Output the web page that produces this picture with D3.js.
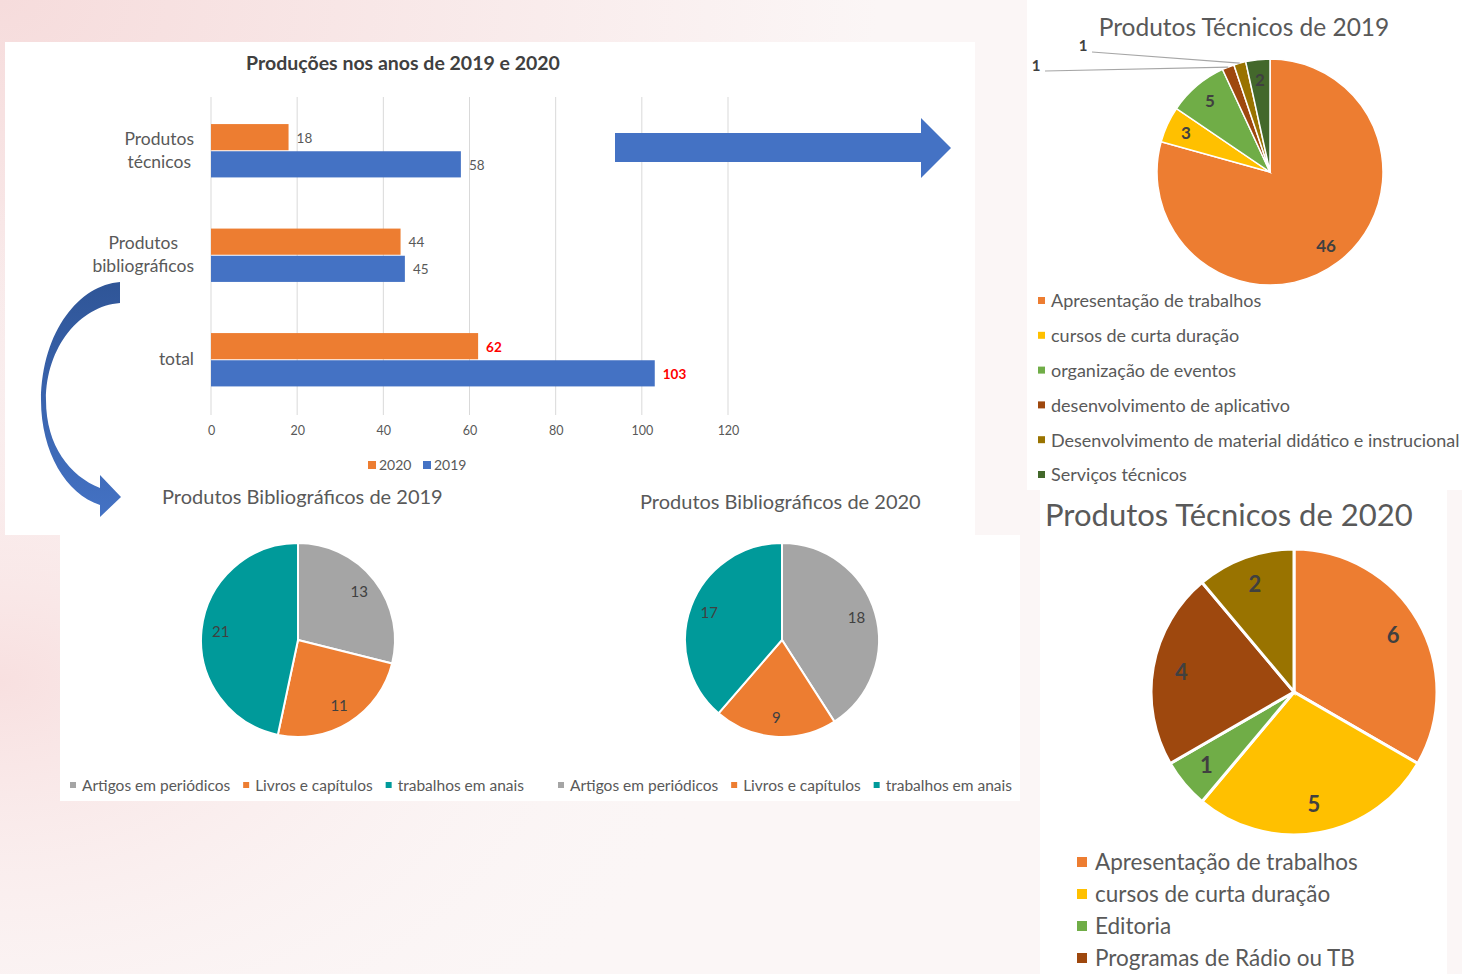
<!DOCTYPE html>
<html>
<head>
<meta charset="utf-8">
<script src="https://d3js.org/d3.v7.min.js"></script>
<style>
  body { margin: 0; background: #fbf6f6; }
  svg { display: block; font-family: Lato, "Open Sans", sans-serif; }
  .grid line { stroke: #d9d9d9; stroke-width: 1px; }
  .tick text { fill: #595959; }
  .lbl { fill: #404040; }
  .leg { fill: #595959; }
</style>
</head>
<body>
<script>
// ---- data ----
var barCategories = ["Produtos técnicos", "Produtos bibliográficos", "total"];
var barYears = ["2020", "2019"];
var values2020 = [18, 44, 62];
var values2019 = [58, 45, 103];
var barTicks = [0, 20, 40, 60, 80, 100, 120];

var bibCategories = ["Artigos em periódicos", "Livros e capítulos", "trabalhos em anais"];
var bib2019 = [13, 11, 21];
var bib2020 = [18, 9, 17];

var tec2019Categories = ["Apresentação de trabalhos", "cursos de curta duração", "organização de eventos",
  "desenvolvimento de aplicativo", "Desenvolvimento de material didático e instrucional", "Serviços técnicos"];
var tec2019 = [46, 3, 5, 1, 1, 2];

var tec2020Categories = ["Apresentação de trabalhos", "cursos de curta duração", "Editoria",
  "Programas de Rádio ou TB", "(fora da imagem)"];
var tec2020 = [6, 5, 1, 4, 2];

var yearColors = {"2020": "#ED7D31", "2019": "#4472C4"};
var bibColors = ["#A5A5A5", "#ED7D31", "#009A9A"];
var tecColors = ["#ED7D31", "#FFC000", "#70AD47", "#9E480E", "#997300", "#43682B"];

var W = 1462, H = 974;
var svg = d3.select("body").append("svg").attr("width", W).attr("height", H);

// ---- background ----
var defs = svg.append("defs");
var rg = defs.append("radialGradient").attr("id", "pinkTL").attr("cx", "0").attr("cy", "0").attr("r", "0.6");
rg.append("stop").attr("offset", "0").attr("stop-color", "#f6dcdc");
rg.append("stop").attr("offset", "1").attr("stop-color", "#fbf6f6");
var rg2 = defs.append("radialGradient").attr("id", "pinkBL").attr("cx", "0").attr("cy", "0.7").attr("r", "0.5");
rg2.append("stop").attr("offset", "0").attr("stop-color", "#f8e0e0");
rg2.append("stop").attr("offset", "1").attr("stop-color", "#fbf6f6").attr("stop-opacity", 0);
var ag = defs.append("linearGradient").attr("id", "arrowGrad").attr("x1", 0).attr("y1", 0).attr("x2", 0).attr("y2", 1);
ag.append("stop").attr("offset", "0").attr("stop-color", "#2f5597");
ag.append("stop").attr("offset", "1").attr("stop-color", "#4472C4");

svg.append("rect").attr("width", W).attr("height", H).attr("fill", "url(#pinkTL)");
svg.append("rect").attr("width", W).attr("height", H).attr("fill", "url(#pinkBL)");

// white panels
svg.append("rect").attr("x", 5).attr("y", 42).attr("width", 970).attr("height", 493).attr("fill", "#fff");
svg.append("rect").attr("x", 60).attr("y", 535).attr("width", 960).attr("height", 266).attr("fill", "#fff");
svg.append("rect").attr("x", 1027).attr("y", 0).attr("width", 435).attr("height", 490).attr("fill", "#fff");
svg.append("rect").attr("x", 1040).attr("y", 490).attr("width", 407).attr("height", 484).attr("fill", "#fff");

// ---- bar chart ----
var x = d3.scaleLinear().domain([0, 120]).range([211, 728]);
var y = d3.scaleBand().domain(barCategories).range([99, 412.5]).paddingInner(0.48).paddingOuter(0.24);
var ySub = d3.scaleBand().domain(barYears).range([0, y.bandwidth()]);

svg.append("text").attr("x", 403).attr("y", 70).attr("text-anchor", "middle")
  .attr("font-size", 19.5).attr("font-weight", "bold").attr("fill", "#404040")
  .text("Produções nos anos de 2019 e 2020");

var grid = svg.append("g").attr("class", "grid");
grid.selectAll("line").data(barTicks).enter().append("line")
  .attr("x1", function(d) { return x(d); }).attr("x2", function(d) { return x(d); })
  .attr("y1", 97).attr("y2", 415);

var xAxis = d3.axisBottom(x).tickValues(barTicks).tickSize(0).tickPadding(0);
svg.append("g").attr("transform", "translate(0,426)").call(xAxis)
  .call(function(g) { g.select(".domain").remove(); })
  .selectAll("text").attr("font-size", 12.5).attr("font-family", "Lato, sans-serif");

var rows = barCategories.map(function(c, i) {
  return {cat: c, vals: [{year: "2020", v: values2020[i]}, {year: "2019", v: values2019[i]}]};
});
var grp = svg.selectAll(".bgrp").data(rows).enter().append("g")
  .attr("transform", function(d) { return "translate(0," + y(d.cat) + ")"; });
grp.selectAll("rect").data(function(d) { return d.vals; }).enter().append("rect")
  .attr("x", x(0)).attr("y", function(d) { return ySub(d.year); })
  .attr("width", function(d) { return x(d.v) - x(0); })
  .attr("height", ySub.bandwidth() - 1)
  .attr("fill", function(d) { return yearColors[d.year]; });
grp.each(function(d, i) {
  d3.select(this).selectAll("text.val").data(d.vals).enter().append("text")
    .attr("x", function(e) { return x(e.v) + 8; })
    .attr("y", function(e) { return ySub(e.year) + ySub.bandwidth() / 2 + 5; })
    .attr("font-size", 13.5)
    .attr("font-weight", i === 2 ? "bold" : "normal")
    .attr("fill", i === 2 ? "#ff0000" : "#595959")
    .text(function(e) { return e.v; });
});

// category labels (multi-line, block right aligned)
var catLines = [["Produtos", "técnicos"], ["Produtos", "bibliográficos"], ["total"]];
barCategories.forEach(function(c, i) {
  var lines = catLines[i];
  var cy = y(c) + y.bandwidth() / 2;
  var g = svg.append("g");
  var ts = lines.map(function(t, k) {
    return g.append("text").attr("font-size", 17.5).attr("fill", "#595959")
      .attr("text-anchor", "middle")
      .attr("y", cy + 5 + (k - (lines.length - 1) / 2) * 23).text(t);
  });
  var maxW = d3.max(ts, function(t) { return t.node().getComputedTextLength(); });
  ts.forEach(function(t) { t.attr("x", 194 - maxW / 2); });
});

// legend
var bl = svg.append("g").attr("transform", "translate(368,466)");
barYears.forEach(function(yr, i) {
  bl.append("rect").attr("x", i * 55).attr("y", -5).attr("width", 8).attr("height", 8).attr("fill", yearColors[yr]);
  bl.append("text").attr("x", i * 55 + 11).attr("y", 4).attr("font-size", 14).attr("fill", "#595959").text(yr);
});

// ---- arrows ----
svg.append("path").attr("fill", "#4472C4")
  .attr("d", "M615,133 L921,133 L921,118 L951,148 L921,178 L921,162 L615,162 Z");
svg.append("path").attr("fill", "url(#arrowGrad)")
  .attr("d", "M120,282 C80,285 42,330 41,400 C41,452 66,494 100,505 L100,517 L121,497 L100,475 L100,488 C70,476 46,446 46,400 C46,347 80,306 120,303 Z");

// ---- pie helper ----
function drawPie(opts) {
  var pie = d3.pie().sort(null).value(function(d) { return d; });
  var arcs = pie(opts.values);
  var arc = d3.arc().innerRadius(0).outerRadius(opts.r);
  var lblArc = d3.arc().innerRadius(opts.r * opts.lr).outerRadius(opts.r * opts.lr);
  var g = svg.append("g").attr("transform", "translate(" + opts.cx + "," + opts.cy + ")");
  g.selectAll("path").data(arcs).enter().append("path")
    .attr("d", arc).attr("fill", function(d, i) { return opts.colors[i]; })
    .attr("stroke", "#fff").attr("stroke-width", opts.sw || 2);
  g.selectAll("text").data(arcs.filter(function(d, i) { return !opts.skip || opts.skip.indexOf(i) < 0; }))
    .enter().append("text")
    .attr("transform", function(d) { return "translate(" + lblArc.centroid(d) + ")"; })
    .attr("text-anchor", "middle").attr("dy", "0.35em")
    .attr("font-size", opts.fs).attr("font-weight", opts.fw || "normal").attr("class", "lbl")
    .text(function(d) { return d.data; });
  return {g: g, arcs: arcs};
}

// ---- bibliographic pies ----
svg.append("text").attr("x", 162).attr("y", 504).attr("font-size", 20).attr("fill", "#595959")
  .text("Produtos Bibliográficos de 2019");
svg.append("text").attr("x", 640).attr("y", 509).attr("font-size", 20).attr("fill", "#595959")
  .text("Produtos Bibliográficos de 2020");
drawPie({cx: 298, cy: 640, r: 97, values: bib2019, colors: bibColors, lr: 0.8, fs: 15});
drawPie({cx: 782, cy: 640, r: 97, values: bib2020, colors: bibColors, lr: 0.8, fs: 15});

function bibLegend(x0) {
  var gx = x0;
  bibCategories.forEach(function(c, i) {
    svg.append("rect").attr("x", gx).attr("y", 782).attr("width", 6).attr("height", 6).attr("fill", bibColors[i]);
    var t = svg.append("text").attr("x", gx + 12).attr("y", 791).attr("font-size", 15.5).attr("class", "leg").text(c);
    gx += 12 + t.node().getComputedTextLength() + 13;
  });
}
bibLegend(70);
bibLegend(558);

// ---- técnicos 2019 ----
svg.append("text").attr("x", 1244).attr("y", 36).attr("text-anchor", "middle")
  .attr("font-size", 24.5).attr("fill", "#595959").text("Produtos Técnicos de 2019");
var p19 = drawPie({cx: 1270, cy: 172, r: 113, values: tec2019, colors: tecColors, lr: 0.82, fs: 17, fw: "bold", skip: [3, 4], sw: 1.5});
// leader lines for the small slices
var leaders = [{i: 3, lx: 1036, ly: 66, sx: 1045, sy: 71}, {i: 4, lx: 1083, ly: 46, sx: 1092, sy: 52}];
leaders.forEach(function(l) {
  var a = p19.arcs[l.i];
  var m = (a.startAngle + a.endAngle) / 2;
  var ex = 1270 + Math.sin(m) * 113, ey = 172 - Math.cos(m) * 113;
  svg.append("line").attr("x1", l.sx).attr("y1", l.sy).attr("x2", ex).attr("y2", ey)
    .attr("stroke", "#a6a6a6").attr("stroke-width", 1.2);
  svg.append("text").attr("x", l.lx).attr("y", l.ly).attr("dy", "0.35em").attr("text-anchor", "middle")
    .attr("font-size", 15).attr("font-weight", "bold").attr("class", "lbl").text(a.data);
});
tec2019Categories.forEach(function(c, i) {
  var yy = 301 + i * 34.8;
  svg.append("rect").attr("x", 1038).attr("y", yy - 4).attr("width", 7).attr("height", 7).attr("fill", tecColors[i]);
  svg.append("text").attr("x", 1051).attr("y", yy).attr("dy", "0.35em").attr("font-size", 18)
    .attr("class", "leg").text(c);
});

// ---- técnicos 2020 ----
svg.append("text").attr("x", 1045).attr("y", 526).attr("font-size", 31).attr("fill", "#595959")
  .text("Produtos Técnicos de 2020");
drawPie({cx: 1294, cy: 692, r: 143, values: tec2020, colors: tecColors, lr: 0.8, fs: 22, fw: "bold", sw: 3});
tec2020Categories.slice(0, 4).forEach(function(c, i) {
  var yy = 862 + i * 32;
  svg.append("rect").attr("x", 1077).attr("y", yy - 5).attr("width", 10).attr("height", 10).attr("fill", tecColors[i]);
  svg.append("text").attr("x", 1095).attr("y", yy).attr("dy", "0.35em").attr("font-size", 22.5)
    .attr("class", "leg").text(c);
});
</script>
</body>
</html>
